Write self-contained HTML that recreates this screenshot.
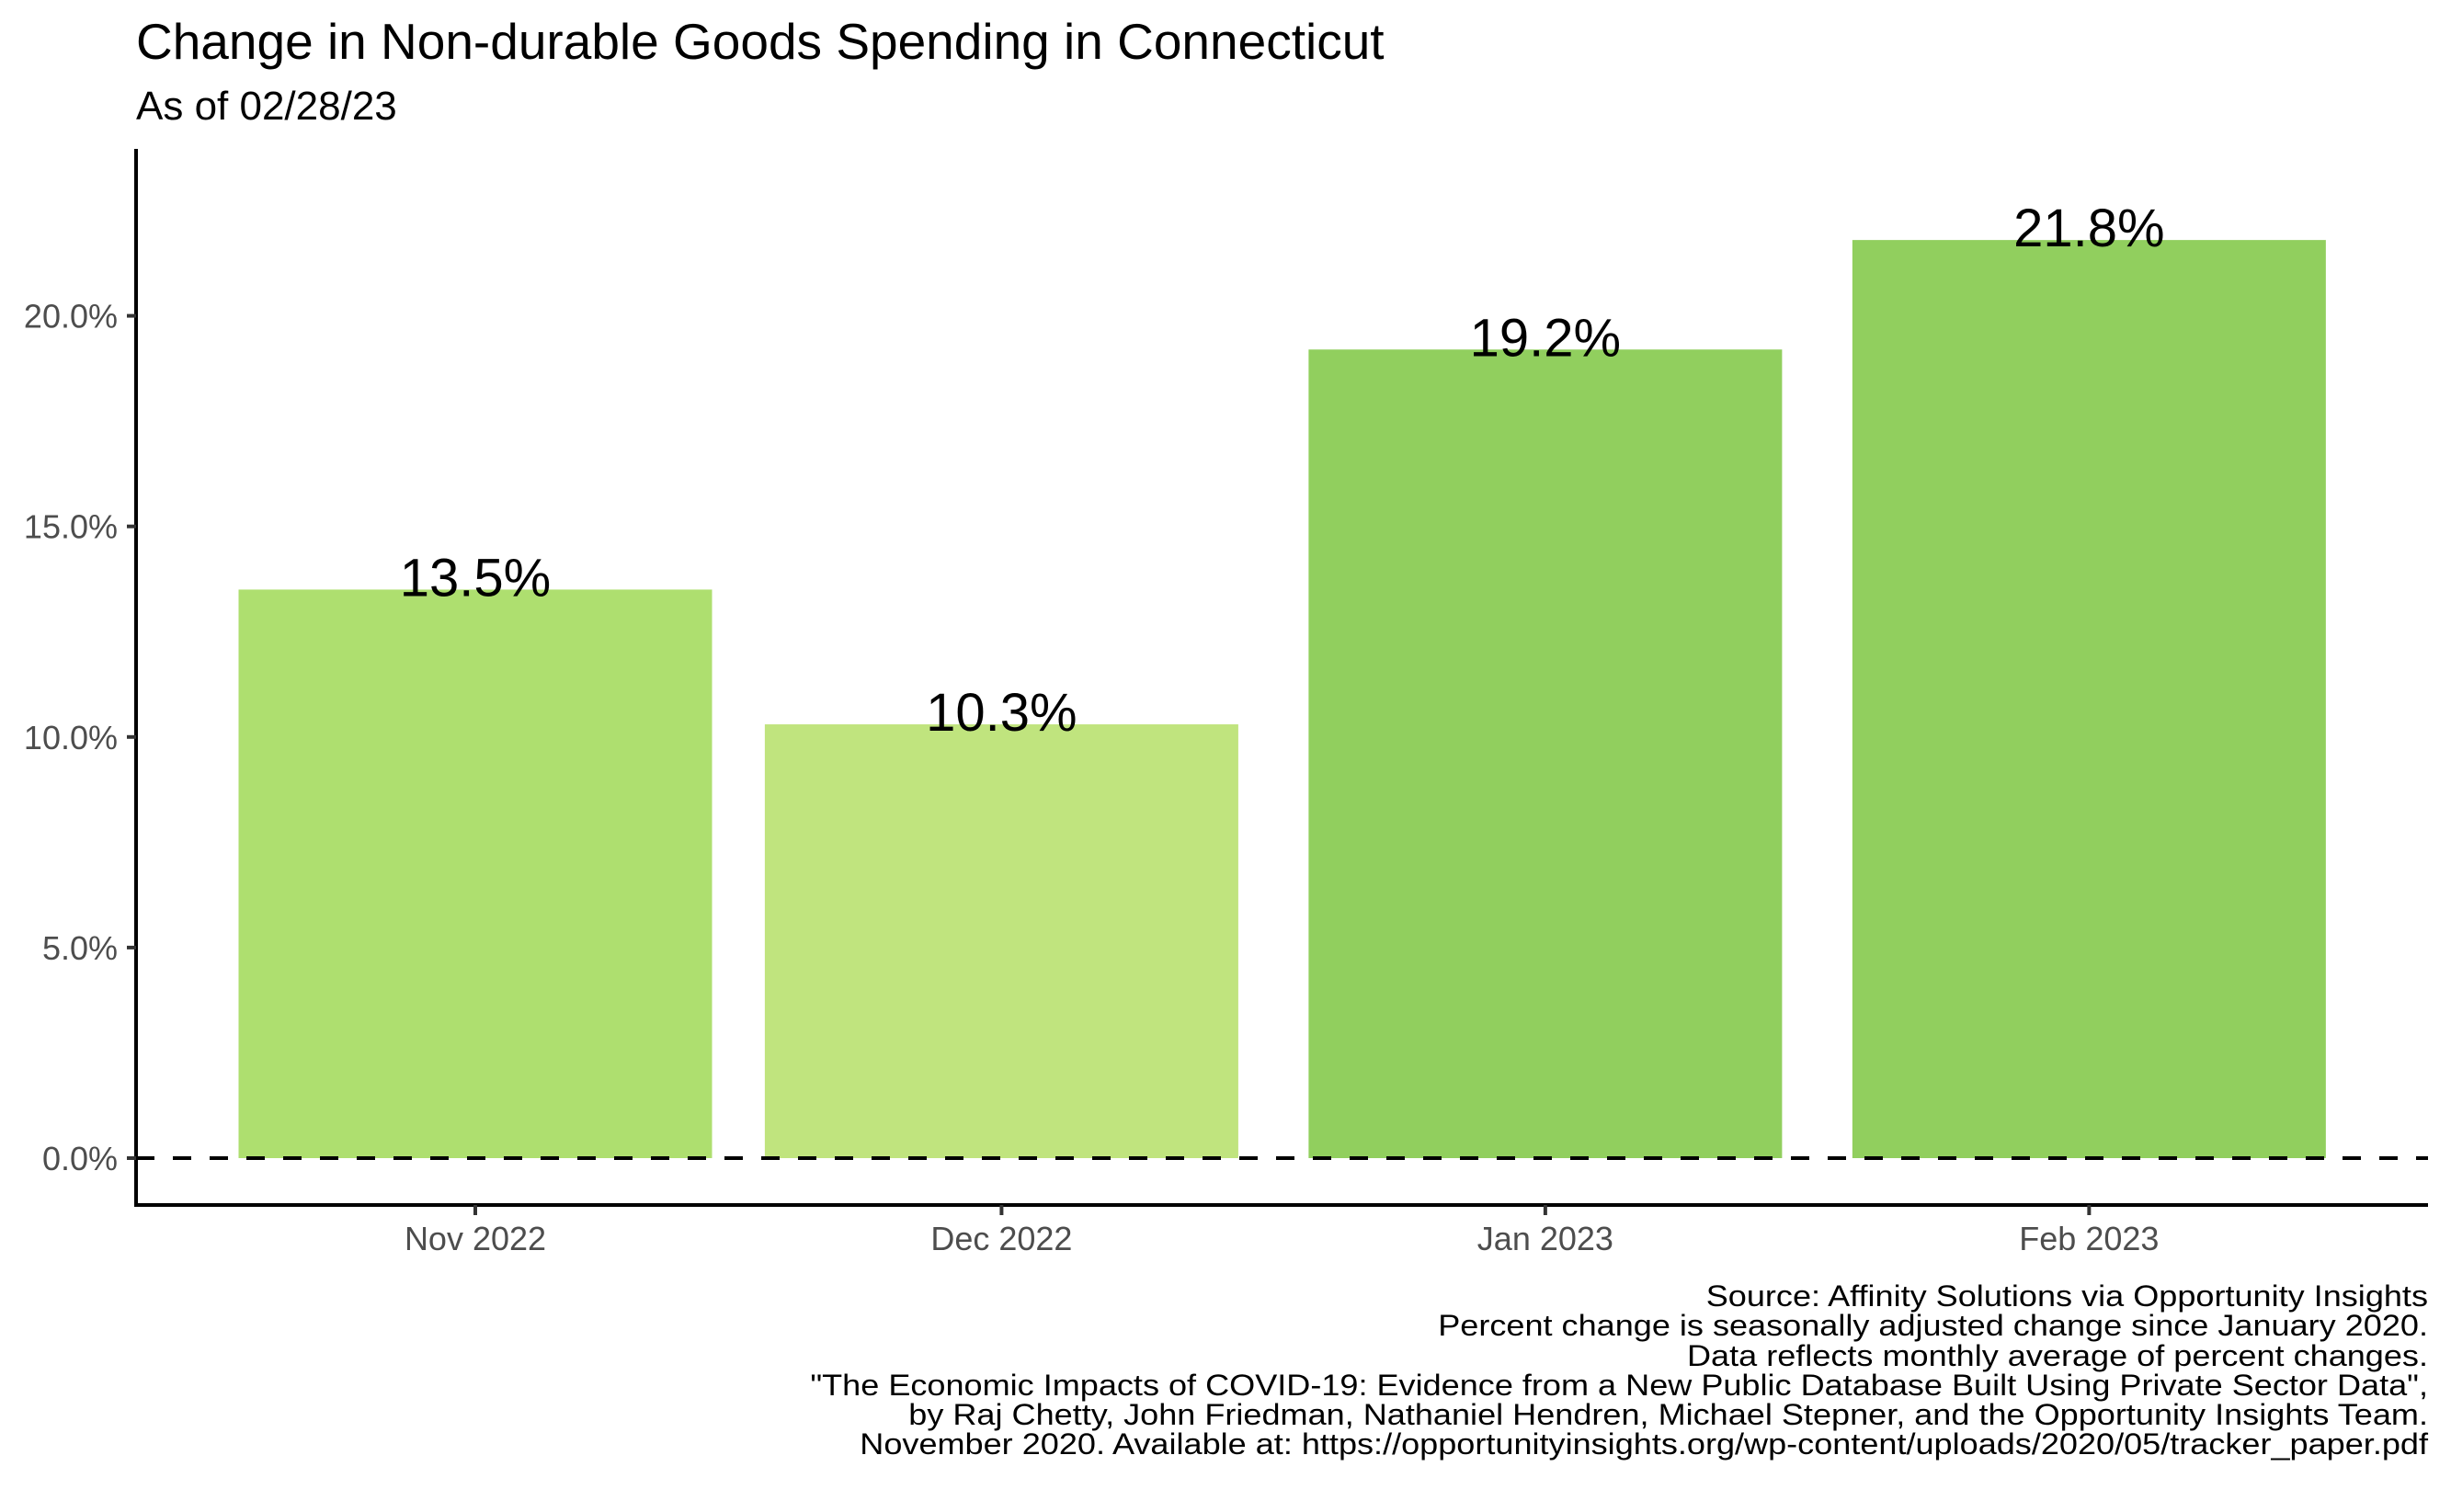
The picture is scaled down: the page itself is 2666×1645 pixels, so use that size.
<!DOCTYPE html>
<html><head><meta charset="utf-8"><style>
html,body{margin:0;padding:0;background:#fff}
svg{display:block;font-family:"Liberation Sans",Arial,sans-serif}
</style></head><body>
<svg id="chart" width="2666" height="1645" viewBox="0 0 2666 1645">
<text x="148" y="64" font-size="55" fill="#000">Change in Non-durable Goods Spending in Connecticut</text>
<text x="148" y="130" font-size="44" fill="#000">As of 02/28/23</text>
<g id="plot"></g>
<g font-size="32.5" fill="#000" text-anchor="end" transform="translate(2641,0) scale(1.11,1) translate(-2641,0)">
<text x="2641" y="1421">Source: Affinity Solutions via Opportunity Insights</text>
<text x="2641" y="1453">Percent change is seasonally adjusted change since January 2020.</text>
<text x="2641" y="1486">Data reflects monthly average of percent changes.</text>
<text x="2641" y="1518">"The Economic Impacts of COVID-19: Evidence from a New Public Database Built Using Private Sector Data",</text>
<text x="2641" y="1550">by Raj Chetty, John Friedman, Nathaniel Hendren, Michael Stepner, and the Opportunity Insights Team.</text>
<text x="2641" y="1582">November 2020. Available at: https://opportunityinsights.org/wp-content/uploads/2020/05/tracker_paper.pdf</text>
</g>
</svg>
<script>
const categories = ["Nov 2022","Dec 2022","Jan 2023","Feb 2023"];
const dayOffsets = [0, 30, 61, 92];
const values = [13.5, 10.3, 19.2, 21.8];
const labels = ["13.5%","10.3%","19.2%","21.8%"];
const colors = ["#aedf6f","#c0e47e","#91cf5e","#91cf5e"];
const yTicks = [0,5,10,15,20];
const yTickLabels = ["0.0%","5.0%","10.0%","15.0%","20.0%"];

const NS="http://www.w3.org/2000/svg";
const g=document.getElementById('plot');
const x0=517, pxPerDay=19.08, barW=515;
const y0=1260, pxPerUnit=45.82;
function xs(d){return x0+d*pxPerDay;}
function ys(v){return y0-v*pxPerUnit;}
function mk(tag,attrs,parent){const e=document.createElementNS(NS,tag);for(const k in attrs)e.setAttribute(k,attrs[k]);(parent||g).appendChild(e);return e;}

values.forEach((v,i)=>{
  const cx=xs(dayOffsets[i]);
  const r=mk('rect',{x:cx-barW/2,y:ys(v),width:barW,height:ys(0)-ys(v),fill:colors[i]});
  
  
});
const zl=mk('line',{x1:148,x2:2641,y1:ys(0),y2:ys(0),stroke:'#000','stroke-width':4,'stroke-dasharray':'20,20'});


values.forEach((v,i)=>{
  const t=mk('text',{x:xs(dayOffsets[i]),y:ys(v)+7,'font-size':58,'text-anchor':'middle',fill:'#000'});
  t.textContent=labels[i];
  
  
});
const ya=mk('line',{x1:148,x2:148,y1:162,y2:1313,stroke:'#000','stroke-width':4});


const xa=mk('line',{x1:146,x2:2641,y1:1311,y2:1311,stroke:'#000','stroke-width':4});


yTicks.forEach((v,i)=>{
  mk('line',{x1:138,x2:148,y1:ys(v),y2:ys(v),stroke:'#333','stroke-width':4});
  const t=mk('text',{x:128,y:ys(v)+13,'font-size':36,'text-anchor':'end',fill:'#4d4d4d'});
  t.textContent=yTickLabels[i];
  
  
});
categories.forEach((c,i)=>{
  const cx=xs(dayOffsets[i]);
  mk('line',{x1:cx,x2:cx,y1:1311,y2:1322,stroke:'#333','stroke-width':4});
  const t=mk('text',{x:cx,y:1360,'font-size':36,'text-anchor':'middle',fill:'#4d4d4d'});
  t.textContent=c;
  
  
});
</script>
</body></html>
